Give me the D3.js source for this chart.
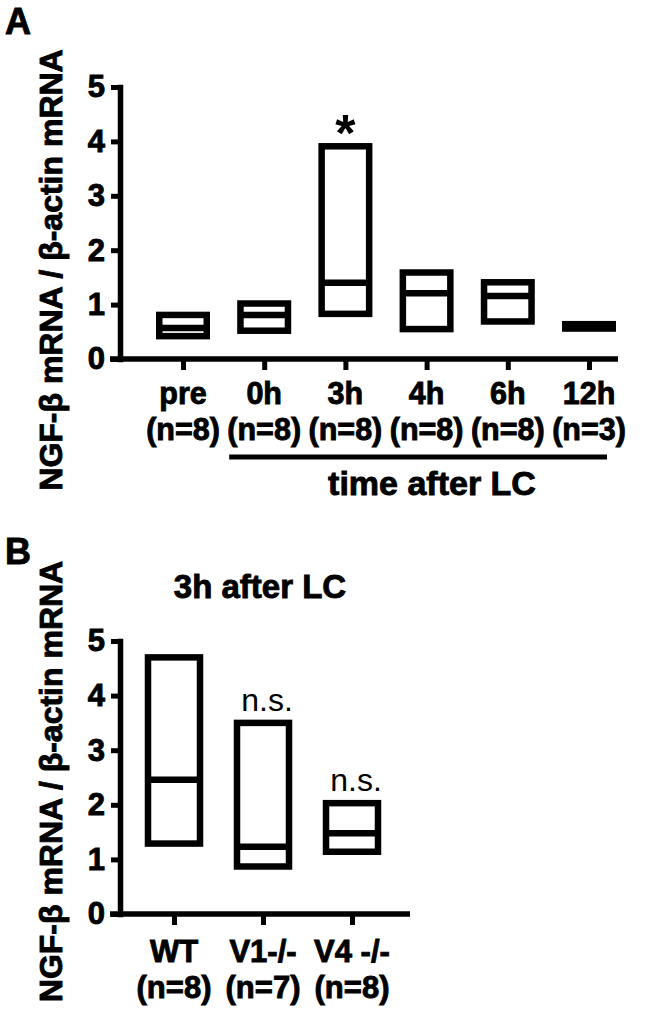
<!DOCTYPE html>
<html>
<head>
<meta charset="utf-8">
<script src="https://cdn.jsdelivr.net/npm/d3@7"></script>
<style>
  body { margin: 0; background: #fff; }
  svg { display: block; font-family: "Liberation Sans", Arial, sans-serif; }
  .bold { font-weight: bold; stroke: #000; stroke-width: 0.9px; }
</style>
</head>
<body>
<div id="chart"></div>
<script>
// panel A: time course
const timeCats = ["pre", "0h", "3h", "4h", "6h", "12h"];
const timeN = ["(n=8)", "(n=8)", "(n=8)", "(n=8)", "(n=8)", "(n=3)"];
const timeMin = [0.42, 0.52, 0.83, 0.55, 0.69, 0.56];
const timeMed = [0.57, 0.81, 1.40, 1.21, 1.16, 0.60];
const timeMax = [0.81, 1.02, 3.91, 1.59, 1.41, 0.64];
const timeMarks = ["", "", "*", "", "", ""];

// panel B: 3h after LC, genotypes
const genoCats = ["WT", "V1-/-", "V4 -/-"];
const genoN = ["(n=8)", "(n=7)", "(n=8)"];
const genoMin = [1.29, 0.87, 1.14];
const genoMed = [2.46, 1.23, 1.48];
const genoMax = [4.70, 3.50, 2.03];
const genoMarks = ["", "n.s.", "n.s."];

const yTicks = [0, 1, 2, 3, 4, 5];
const yTitle = "NGF-β mRNA / β-actin mRNA";

const W = 662, H = 1012;
const svg = d3.select("#chart").append("svg")
    .attr("width", W)
    .attr("height", H);

function drawPanel(cfg) {
    const g = svg.append("g");
    const x = d3.scalePoint().domain(cfg.cats).range(cfg.xRange);
    const y = d3.scaleLinear().domain([0, 5]).range(cfg.yRange);

    // y axis
    const ya = g.append("g")
        .attr("transform", `translate(${cfg.axisX},0)`)
        .call(d3.axisLeft(y).tickValues(yTicks).tickSize(9).tickSizeOuter(0).tickPadding(6).tickFormat(d3.format("d")));
    ya.select(".domain").attr("stroke-width", 5.5).attr("stroke-linecap", "square");
    ya.selectAll(".tick line").attr("stroke-width", 5);
    ya.selectAll(".tick text")
        .attr("class", "bold")
        .attr("font-size", 31)
        .attr("fill", "#000");

    // x axis baseline + ticks
    g.append("line")
        .attr("x1", cfg.axisX - 10).attr("x2", cfg.xEnd)
        .attr("y1", y(0)).attr("y2", y(0))
        .attr("stroke", "#000").attr("stroke-width", 5.5);
    const xa = g.append("g")
        .attr("transform", `translate(0,${y(0)})`)
        .call(d3.axisBottom(x).tickSize(11).tickFormat(""));
    xa.select(".domain").remove();
    xa.selectAll(".tick line").attr("stroke-width", 5);

    // category labels, two rows
    g.selectAll(".lab1").data(cfg.cats).enter().append("text")
        .attr("class", "bold")
        .attr("x", d => x(d)).attr("y", y(0) + cfg.row1)
        .attr("text-anchor", "middle")
        .attr("font-size", cfg.labSize)
        .text(d => d);
    g.selectAll(".lab2").data(cfg.ns).enter().append("text")
        .attr("class", "bold")
        .attr("x", (d, i) => x(cfg.cats[i])).attr("y", y(0) + cfg.row2)
        .attr("text-anchor", "middle")
        .attr("font-size", cfg.labSize)
        .text(d => d);

    // floating bars: min..max with median line
    const rows = cfg.cats.map((c, i) => ({ c, lo: cfg.min[i], md: cfg.med[i], hi: cfg.max[i], mark: cfg.marks[i] }));
    const bw = cfg.boxW;
    g.selectAll(".box").data(rows).enter().append("rect")
        .attr("x", d => x(d.c) - bw / 2)
        .attr("y", d => y(d.hi))
        .attr("width", bw)
        .attr("height", d => y(d.lo) - y(d.hi))
        .attr("fill", "none")
        .attr("stroke", "#000")
        .attr("stroke-width", 6.5);
    g.selectAll(".med").data(rows).enter().append("line")
        .attr("x1", d => x(d.c) - bw / 2).attr("x2", d => x(d.c) + bw / 2)
        .attr("y1", d => y(d.md)).attr("y2", d => y(d.md))
        .attr("stroke", "#000")
        .attr("stroke-width", 6.5);

    // significance marks
    g.selectAll(".mark").data(rows.filter(d => d.mark)).enter().append("text")
        .attr("x", d => x(d.c) + cfg.markDx)
        .attr("y", d => y(d.hi) + cfg.markDy)
        .attr("text-anchor", "middle")
        .attr("font-size", cfg.markSize)
        .attr("font-weight", cfg.markWeight)
        .text(d => d.mark);

    // y title
    g.append("text")
        .attr("class", "bold")
        .attr("transform", `translate(62,${(cfg.yRange[0] + cfg.yRange[1]) / 2 + cfg.titleDy}) rotate(-90)`)
        .attr("text-anchor", "middle")
        .attr("font-size", 32)
        .text(yTitle);

    // panel letter
    g.append("text")
        .attr("class", "bold")
        .attr("x", 5).attr("y", cfg.letterY)
        .attr("font-size", 36)
        .text(cfg.letter);

    return { g, x, y };
}

const A = drawPanel({
    cats: timeCats, ns: timeN, min: timeMin, med: timeMed, max: timeMax, marks: timeMarks,
    axisX: 120, xRange: [183, 589], xEnd: 618, yRange: [359, 87],
    boxW: 47.5, row1: 45, row2: 81, labSize: 30.5,
    markDx: 0, markDy: 5, markSize: 52, markWeight: "bold",
    titleDy: 47, letter: "A", letterY: 34
});

// bracket under the time points after LC
A.g.append("line")
    .attr("x1", A.x("0h") - 35).attr("x2", A.x("12h") + 18)
    .attr("y1", 457).attr("y2", 457)
    .attr("stroke", "#000").attr("stroke-width", 5);
A.g.append("text")
    .attr("class", "bold")
    .attr("x", 432).attr("y", 495)
    .attr("text-anchor", "middle")
    .attr("font-size", 34)
    .text("time after LC");

const B = drawPanel({
    cats: genoCats, ns: genoN, min: genoMin, med: genoMed, max: genoMax, marks: genoMarks,
    axisX: 120, xRange: [174, 352], xEnd: 410, yRange: [914, 641],
    boxW: 52, row1: 48, row2: 84, labSize: 31,
    markDx: 4, markDy: -12, markSize: 32, markWeight: "normal",
    titleDy: 4, letter: "B", letterY: 564
});

B.g.append("text")
    .attr("class", "bold")
    .attr("x", 260).attr("y", 598)
    .attr("text-anchor", "middle")
    .attr("font-size", 33)
    .text("3h after LC");
</script>
</body>
</html>
